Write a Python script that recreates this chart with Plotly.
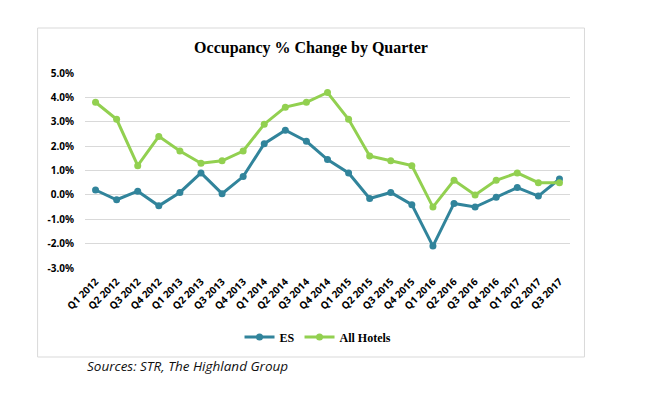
import plotly.graph_objects as go

quarters = ["Q1 2012", "Q2 2012", "Q3 2012", "Q4 2012", "Q1 2013", "Q2 2013", "Q3 2013", "Q4 2013",
            "Q1 2014", "Q2 2014", "Q3 2014", "Q4 2014", "Q1 2015", "Q2 2015", "Q3 2015", "Q4 2015",
            "Q1 2016", "Q2 2016", "Q3 2016", "Q4 2016", "Q1 2017", "Q2 2017", "Q3 2017"]
es = [0.2, -0.2, 0.15, -0.45, 0.1, 0.9, 0.05, 0.75, 2.1, 2.65, 2.2, 1.45, 0.9, -0.15, 0.1, -0.4,
      -2.1, -0.35, -0.5, -0.1, 0.3, -0.05, 0.65]
all_hotels = [3.8, 3.1, 1.2, 2.4, 1.8, 1.3, 1.4, 1.8, 2.9, 3.6, 3.8, 4.2, 3.1, 1.6, 1.4, 1.2,
              -0.5, 0.6, 0.0, 0.6, 0.9, 0.5, 0.5]
y_ticks = [-3, -2, -1, 0, 1, 2, 3, 4, 5]

OFF = 8  # page body margin
W, H = 651 - OFF, 395 - OFF
L, R, T, B = 84.5 - OFF, 570.5 - OFF, 73 - OFF, 268 - OFF


def px(x):
    return (x - OFF - L) / (R - L)


def py(y):
    return (B - (y - OFF)) / (B - T)


fig = go.Figure()
fig.add_trace(go.Scatter(x=quarters, y=es, name="ES", mode="lines+markers",
                         line=dict(color="#31849B", width=3), marker=dict(size=7, color="#31849B")))
fig.add_trace(go.Scatter(x=quarters, y=all_hotels, name="All Hotels", mode="lines+markers",
                         line=dict(color="#92D050", width=3), marker=dict(size=7, color="#92D050")))

fig.update_layout(
    width=W, height=H,
    margin=dict(l=L, r=W - R, t=T, b=H - B),
    paper_bgcolor="white", plot_bgcolor="white",
    showlegend=True,
    title=dict(text="<b>Occupancy % Change by Quarter</b>", x=(311 - OFF) / W, xanchor="center",
               y=1 - (47 - OFF) / H, yanchor="middle",
               font=dict(family="Liberation Serif", size=16, color="black")),
    legend=dict(orientation="h", x=px(318), xanchor="center", y=py(337),
                yanchor="middle", font=dict(family="Liberation Serif", size=12, color="black", weight="bold"),
                traceorder="normal"),
    xaxis=dict(type="category", range=[-0.5, 22.5], tickangle=-45, showgrid=False, showline=False,
               ticks="", ticklabelstandoff=5,
               tickfont=dict(family="Noto Sans", size=10, color="black", weight="bold")),
    yaxis=dict(range=[-3, 5], tickvals=y_ticks, ticktext=[f"{v:.1f}%" for v in y_ticks],
               showgrid=True, gridcolor="#D9D9D9", gridwidth=1, zeroline=False, showline=False,
               ticks="", ticklabelstandoff=10,
               tickfont=dict(family="Noto Sans", size=10, color="black", weight="bold")),
)

# chart border box
fig.add_shape(type="rect", xref="paper", yref="paper",
              x0=px(37), x1=px(585), y0=py(357), y1=py(28),
              line=dict(color="#D9D9D9", width=1), fillcolor="rgba(0,0,0,0)", layer="below")

fig.add_annotation(text="<i>Sources: STR, The Highland Group</i>", xref="paper", yref="paper",
                   x=px(84), xanchor="left", y=py(366), yanchor="middle",
                   showarrow=False, font=dict(family="Open Sans", size=13.5, color="#111"))

fig.write_html("out.html")
